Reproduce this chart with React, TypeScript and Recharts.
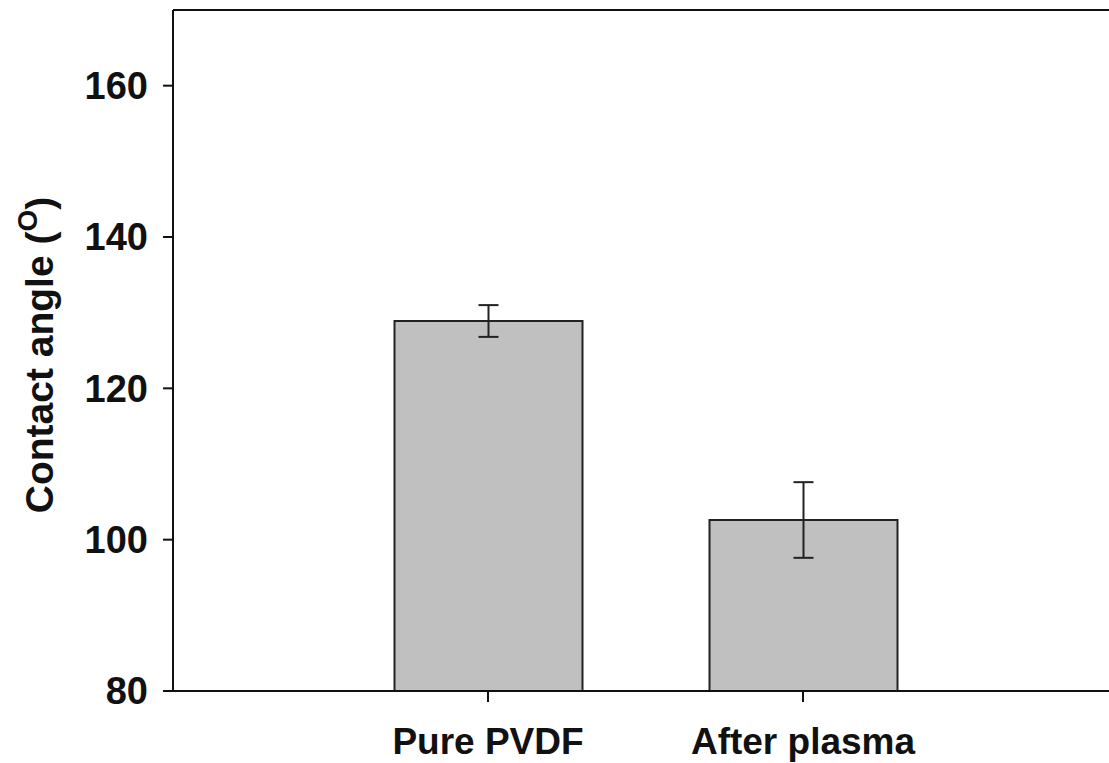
import React from 'react';
import { BarChart, Bar, XAxis, YAxis, ErrorBar, ReferenceLine } from 'recharts';

// Water contact angle of the membrane before and after plasma treatment
const categories = ['Pure PVDF', 'After plasma'];
const contactAngle = [128.9, 102.6];
const angleError = [2.1, 5.0];
const yTicks = [80, 100, 120, 140, 160];

const data = categories.map((name, i) => ({
  name,
  angle: contactAngle[i],
  err: angleError[i],
}));

const FONT = '"Liberation Sans", Arial, Helvetica, sans-serif';
const INK = '#111';

const YLabel = () => {
  const cx = 53;
  const cy = 355;
  return (
    <text
      x={cx}
      y={cy}
      transform={`rotate(-90, ${cx}, ${cy})`}
      textAnchor="middle"
      fontFamily={FONT}
      fontWeight="bold"
      fontSize={39}
      fill={INK}
    >
      Contact angle (
      <tspan dy={-16} fontSize={28}>O</tspan>
      <tspan dy={16}>)</tspan>
    </text>
  );
};

export default function App() {
  return (
    <div
      style={{
        position: 'absolute',
        left: 0,
        top: 0,
        width: 1109,
        height: 763,
        overflow: 'hidden',
        background: '#fff',
      }}
    >
      <BarChart
        width={1140}
        height={763}
        data={data}
        margin={{ top: 10, right: 22, bottom: 0, left: 0 }}
      >
        <XAxis
          dataKey="name"
          height={72}
          padding={{ left: 157.5, right: 157.5 }}
          axisLine={{ stroke: INK, strokeWidth: 2 }}
          tickLine={{ stroke: INK, strokeWidth: 2 }}
          tickSize={11}
          tickMargin={26}
          tick={{ fill: INK, fontSize: 37, fontWeight: 'bold', fontFamily: FONT }}
        />
        <YAxis
          width={173}
          domain={[80, 170]}
          ticks={yTicks}
          allowDataOverflow
          axisLine={{ stroke: INK, strokeWidth: 2 }}
          tickLine={{ stroke: INK, strokeWidth: 2 }}
          tickSize={10}
          tickMargin={15}
          tick={{ fill: INK, fontSize: 38, fontWeight: 'bold', fontFamily: FONT }}
          label={<YLabel />}
        />
        <ReferenceLine y={170} stroke={INK} strokeWidth={2} />
        <Bar
          dataKey="angle"
          fill="#c0c0c0"
          stroke="#222"
          strokeWidth={2}
          barSize={188}
          isAnimationActive={false}
        >
          <ErrorBar
            dataKey="err"
            width={10}
            stroke="#222"
            strokeWidth={2}
            direction="y"
          />
        </Bar>
      </BarChart>
    </div>
  );
}
